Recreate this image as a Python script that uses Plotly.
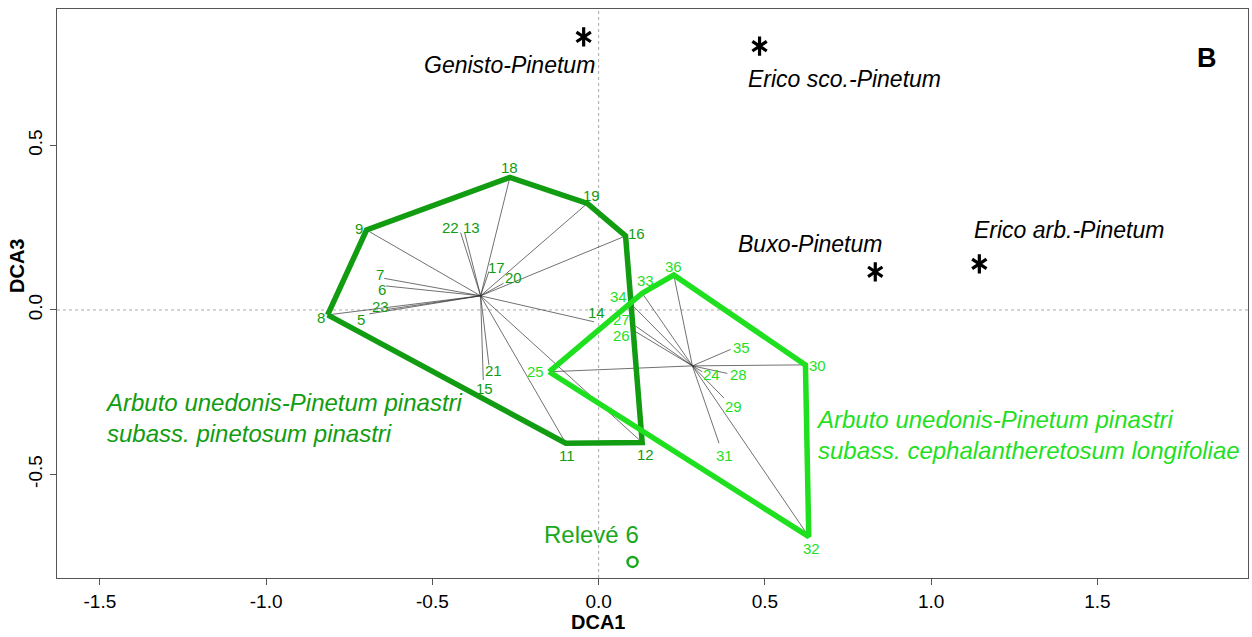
import plotly.graph_objects as go

# ---------------- data ----------------
g1_ids = ["5", "6", "7", "8", "9", "11", "12", "13", "14", "15", "16", "17", "18", "19", "20", "21", "22", "23"]
g1_x = [-0.690, -0.640, -0.645, -0.815, -0.698, -0.099, 0.131, -0.403, -0.014, -0.347, 0.081, -0.330, -0.267, -0.034, -0.286, -0.330, -0.415, -0.633]
g1_y = [-0.012, 0.073, 0.096, -0.015, 0.243, -0.405, -0.403, 0.235, -0.036, -0.213, 0.225, 0.117, 0.403, 0.324, 0.081, -0.167, 0.235, 0.002]
g1_centroid = (-0.355, 0.043)
g1_hull = ["8", "9", "18", "19", "16", "12", "11", "8"]

g2_ids = ["24", "25", "26", "27", "28", "29", "30", "31", "32", "33", "34", "35", "36"]
g2_x = [0.312, -0.149, 0.111, 0.111, 0.387, 0.377, 0.622, 0.362, 0.632, 0.131, 0.096, 0.397, 0.226]
g2_y = [-0.188, -0.188, -0.066, -0.049, -0.193, -0.268, -0.167, -0.405, -0.689, 0.051, 0.020, -0.120, 0.106]
g2_centroid = (0.282, -0.170)
g2_hull = ["25", "34", "33", "36", "30", "32", "25"]

assoc_names = ["Genisto-Pinetum", "Erico sco.-Pinetum", "Buxo-Pinetum", "Erico arb.-Pinetum"]
assoc_x = [-0.045, 0.484, 0.832, 1.145]
assoc_y = [0.830, 0.802, 0.116, 0.140]

releve_name = "Relevé 6"
releve_x = [0.102]
releve_y = [-0.766]

x_ticks = [-1.5, -1.0, -0.5, 0.0, 0.5, 1.0, 1.5]
y_ticks = [-0.5, 0.0, 0.5]

# ---------------- style ----------------
DARK = "#119c11"
LIGHT = "#1fe01f"
RELEVE = "#1aa81a"
FONT = "Liberation Sans, Arial, Helvetica, sans-serif"

# plot area in pixels (for paper-placed texts)
L, R, T, B = 57, 1248, 9, 578
W, H = 1252, 637


def px(xp):
    return (xp - L) / (R - L)


def py(yp):
    return (B - yp) / (B - T)


# label pixel offsets (dx, dy) -- dy positive = up
lab_off = {
    "5": (-8, -6), "6": (-4, -4), "7": (-4, 4), "8": (-7, -3), "9": (-8, 2),
    "11": (1, -12), "12": (3, -12), "13": (7, 5), "14": (3, 9), "15": (1, -8),
    "16": (11, 2), "17": (8, 4), "18": (0, 10), "19": (4, 8), "20": (10, 6),
    "21": (5, -6), "22": (-10, 5), "23": (-8, 3),
    "24": (9, -3), "25": (-14, 0), "26": (-14, -4), "27": (-14, 7), "28": (11, -1),
    "29": (10, -8), "30": (12, -1), "31": (5, -12), "32": (3, -12), "33": (3, 13),
    "34": (-12, 7), "35": (11, 2), "36": (0, 9),
}

fig = go.Figure()


def spider(xs, ys, c):
    sx, sy = [], []
    for x, y in zip(xs, ys):
        sx += [c[0], x, None]
        sy += [c[1], y, None]
    return go.Scatter(x=sx, y=sy, mode="lines", line=dict(color="#333333", width=0.7),
                      hoverinfo="skip", showlegend=False)


def hull(ids, xs, ys, order, color):
    idx = {k: i for i, k in enumerate(ids)}
    hx = [xs[idx[k]] for k in order]
    hy = [ys[idx[k]] for k in order]
    return go.Scatter(x=hx, y=hy, mode="lines", line=dict(color=color, width=5.5),
                      hoverinfo="skip", showlegend=False)


# zero reference lines
fig.add_shape(type="line", xref="x", yref="paper", x0=0, x1=0, y0=0, y1=1,
              line=dict(color="#aaaaaa", width=1, dash="dot"), layer="below")
fig.add_shape(type="line", xref="paper", yref="y", x0=0, x1=1, y0=0, y1=0,
              line=dict(color="#aaaaaa", width=1, dash="dot"), layer="below")

fig.add_trace(spider(g1_x, g1_y, g1_centroid))
fig.add_trace(spider(g2_x, g2_y, g2_centroid))
fig.add_trace(hull(g1_ids, g1_x, g1_y, g1_hull, DARK))
fig.add_trace(hull(g2_ids, g2_x, g2_y, g2_hull, LIGHT))

# point labels
for ids, xs, ys, col in [(g1_ids, g1_x, g1_y, DARK), (g2_ids, g2_x, g2_y, LIGHT)]:
    for k, x, y in zip(ids, xs, ys):
        dx, dy = lab_off.get(k, (0, 0))
        fig.add_annotation(x=x, y=y, text=k, showarrow=False, xshift=dx, yshift=dy,
                           font=dict(family=FONT, size=15, color=col))

# association asterisks (6-armed: y-up + y-down)
for sym in ["y-up-open", "y-down-open"]:
    fig.add_trace(go.Scatter(x=assoc_x, y=assoc_y, mode="markers",
                             marker=dict(symbol=sym, size=12, color="black",
                                         line=dict(width=3.2, color="black")),
                             hoverinfo="skip", showlegend=False))
# association names
assoc_lab = [
    dict(xshift=13, yshift=-28, xanchor="right"),
    dict(xshift=-14, yshift=-33, xanchor="left"),
    dict(xshift=9, yshift=28, xanchor="right"),
    dict(xshift=-7, yshift=34, xanchor="left"),
]
for n, x, y, o in zip(assoc_names, assoc_x, assoc_y, assoc_lab):
    fig.add_annotation(x=x, y=y, text="<i>%s</i>" % n, showarrow=False,
                       xshift=o["xshift"], yshift=o["yshift"], xanchor=o["xanchor"],
                       yanchor="middle",
                       font=dict(family=FONT, size=23, color="black"))

# releve 6
fig.add_trace(go.Scatter(x=releve_x, y=releve_y, mode="markers",
                         marker=dict(symbol="circle-open", size=10, color=RELEVE,
                                     line=dict(width=2.5, color=RELEVE)),
                         hoverinfo="skip", showlegend=False))
fig.add_annotation(x=releve_x[0], y=releve_y[0], text=releve_name, showarrow=False,
                   xshift=-41, yshift=27, xanchor="center", yanchor="middle",
                   font=dict(family=FONT, size=24, color=RELEVE))

# group labels
fig.add_annotation(xref="paper", yref="paper", x=px(103), y=py(418),
                   xanchor="left", yanchor="middle", align="left", showarrow=False,
                   text="<i>Arbuto unedonis-Pinetum pinastri<br>subass. pinetosum pinastri</i>",
                   font=dict(family=FONT, size=24, color=DARK))
fig.add_annotation(xref="paper", yref="paper", x=px(814), y=py(435),
                   xanchor="left", yanchor="middle", align="left", showarrow=False,
                   text="<i>Arbuto unedonis-Pinetum pinastri<br>subass. cephalantheretosum longifoliae</i>",
                   font=dict(family=FONT, size=24, color=LIGHT))

# panel letter
fig.add_annotation(xref="paper", yref="paper", x=px(1207), y=py(58),
                   xanchor="center", yanchor="middle",
                   text="<b>B</b>", showarrow=False,
                   font=dict(family=FONT, size=27, color="black"))

# axis titles
fig.add_annotation(xref="paper", yref="paper", x=px(598), y=py(622),
                   xanchor="center", yanchor="middle", text="<b>DCA1</b>", showarrow=False,
                   font=dict(family=FONT, size=20, color="black"))
fig.add_annotation(xref="paper", yref="paper", x=px(17), y=py(266),
                   xanchor="center", yanchor="middle", text="<b>DCA3</b>", showarrow=False,
                   textangle=-90, font=dict(family=FONT, size=20, color="black"))

fig.update_layout(
    width=W, height=H,
    margin=dict(l=L, r=W - R, t=T, b=H - B),
    paper_bgcolor="white", plot_bgcolor="white",
    font=dict(family=FONT, color="black"),
    showlegend=False,
)
fig.update_xaxes(range=[-1.629, 1.953], tickvals=x_ticks,
                 ticktext=["%.1f" % v for v in x_ticks],
                 showgrid=False, zeroline=False, showline=True, linecolor="#555555",
                 linewidth=1, mirror=True, ticks="outside", ticklen=6, tickcolor="#555555",
                 tickfont=dict(size=19))
fig.update_yaxes(range=[-0.815, 0.915], tickvals=y_ticks,
                 ticktext=["%.1f" % v for v in y_ticks], tickangle=-90,
                 showgrid=False, zeroline=False, showline=True, linecolor="#555555",
                 linewidth=1, mirror=True, ticks="outside", ticklen=6, tickcolor="#555555",
                 tickfont=dict(size=19))

fig.write_html("out.html")
